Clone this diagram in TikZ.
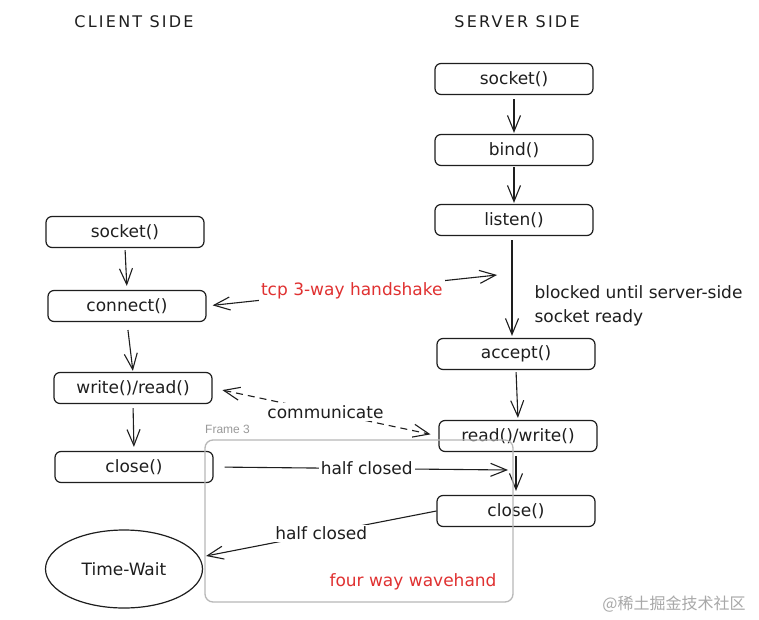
\documentclass[tikz,border=0pt]{standalone}
\usepackage{fontspec}
\setmainfont{DejaVu Sans}
\newfontfamily\titlefont[LetterSpace=14]{DejaVu Sans}
\newfontfamily\cjkfont{Noto Sans CJK SC}
\newfontfamily\framefont{Liberation Sans}
\usetikzlibrary{arrows.meta,shapes.geometric}
\definecolor{ink}{HTML}{1E1E1E}
\definecolor{exred}{HTML}{E03131}
\definecolor{framegray}{HTML}{B8B8B8}
\definecolor{labelgray}{HTML}{9A9A9A}
\definecolor{wmgray}{HTML}{A8A8A8}
\begin{document}
\begin{tikzpicture}[x=1pt,y=-1pt,
  font=\fontsize{17}{20}\selectfont,
  fbox/.style={draw=ink, line width=1.2pt, rounded corners=6pt, minimum width=158pt, minimum height=31pt, inner sep=0pt, text=ink},
  ell/.style={draw=ink, line width=1.2pt, ellipse, minimum width=157pt, minimum height=78pt, inner sep=0pt, text=ink},
  tip/.tip={Straight Barb[length=16pt,width=13pt,line width=1.1pt]},
  arr/.style={draw=ink, line width=1.1pt, -tip},
  arrtwo/.style={draw=ink, line width=1.1pt, tip-tip},
  lbl/.style={fill=white, inner sep=2pt, text=ink},
  title/.style={text=ink, font=\titlefont\fontsize{16}{18}\selectfont},
  frame/.style={draw=framegray, line width=1.3pt, rounded corners=8pt, minimum width=308pt, minimum height=162pt, inner sep=0pt}
]
\useasboundingbox (0,0) rectangle (759,620);
\fill[white] (0,0) rectangle (759,620);

% titles
\node[title] (ct) at (134,22) {CLIENT SIDE};
\node[title] (st) at (517,22) {SERVER SIDE};

% client boxes
\node[fbox] (csock) at (125,232) {socket()};
\node[fbox] (conn)  at (127,306) {connect()};
\node[fbox] (wr)    at (133,388) {write()/read()};
\node[fbox] (cclose) at (134,467) {close()};
\node[ell]  (tw)    at (124,569) {Time-Wait};

% server boxes
\node[fbox] (ssock) at (514,79) {socket()};
\node[fbox] (bind)  at (514,150) {bind()};
\node[fbox] (listen) at (514,220) {listen()};
\node[fbox] (accept) at (516,354) {accept()};
\node[fbox] (rw)    at (518,436) {read()/write()};
\node[fbox] (sclose) at (516,511) {close()};

% vertical arrows
\draw[arr, shorten <=2pt, shorten >=4pt] (csock.south) -- (conn.north);
\draw[arr, shorten <=8pt, shorten >=1pt] (conn.south) -- (wr.north);
\draw[arr, shorten <=4pt, shorten >=4pt] (wr.south) -- (cclose.north);
\draw[arr, shorten <=4pt, shorten >=1pt] (ssock.south) -- (bind.north);
\draw[arr, shorten <=1pt, shorten >=1pt] (bind.south) -- (listen.north);
\draw[arr, shorten <=4pt, shorten >=2pt] ([xshift=-2pt]listen.south) -- ([xshift=-4pt]accept.north);
\draw[arr, shorten <=2pt, shorten >=2pt] (accept.south) -- (rw.north);
\draw[arr, shorten <=4pt, shorten >=4pt] ([xshift=-2pt]rw.south) -- (sclose.north);

% connectors with labels
\coordinate (hs) at (497,275);
\draw[arrtwo, shorten <=6pt] (conn.east) -- node[lbl, text=exred, pos=0.5] (hslbl) {tcp 3-way handshake} (hs);

\draw[arrtwo, dash pattern=on 7pt off 5pt, shorten <=10pt, shorten >=8pt] (wr.east) -- node[lbl, pos=0.5] (comm) {communicate} (rw.west);

\coordinate (hc) at (508,470);
\draw[arr, shorten <=11pt] (cclose.east) -- node[lbl, pos=0.52] (hc1) {half closed} (hc);

\coordinate (twin) at (206,556);
\draw[arr] (sclose.west) -- node[lbl, pos=0.5] (hc2) {half closed} (twin);

% side notes
\node[anchor=west, align=left, text=ink, font=\fontsize{17}{24}\selectfont] (blk) at (531,306) {blocked until server-side\\socket ready};

% frame
\node[frame] (f3) at (359,521) {};
\node[anchor=west, text=labelgray, font=\framefont\fontsize{12}{14}\selectfont, inner sep=0pt] (f3lbl) at (205,429) {Frame 3};
\node[text=exred] (fw) at (413,582) {four way wavehand};

% watermark
\node[text=wmgray, font=\cjkfont\fontsize{16}{18}\selectfont] (wm) at (674,604) {@稀土掘金技术社区};
\end{tikzpicture}
\end{document}
